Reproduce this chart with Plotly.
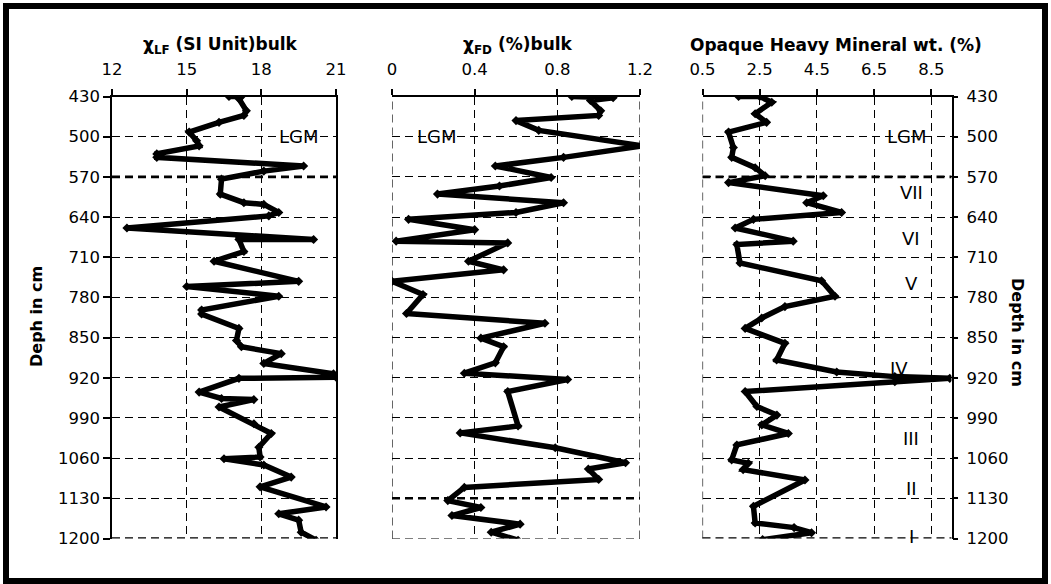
import plotly.graph_objects as go

# ---------------- data ----------------
depth_ticks = [430, 500, 570, 640, 710, 780, 850, 920, 990, 1060, 1130, 1200]

depth_lf = [430, 430, 434, 455, 463, 475, 492, 507, 516, 530, 536, 551, 560, 574, 600, 615,
            618, 632, 638, 659, 679, 679, 700, 717, 752, 761, 778, 802, 809, 834, 855, 866,
            878, 895, 913, 919, 921, 945, 956, 958, 971, 1000, 1017, 1041, 1058, 1061, 1072,
            1093, 1110, 1145, 1157, 1168, 1189, 1203]
chi_lf = [16.7, 17.2, 17.1, 17.4, 17.3, 16.3, 15.1, 15.4, 15.5, 13.8, 13.8, 19.7, 18.1, 16.4,
          16.35, 17.3, 18.1, 18.7, 18.3, 12.6, 20.1, 17.1, 17.3, 16.1, 19.5, 15.0, 18.7, 15.6,
          15.6, 17.1, 17.0, 17.2, 18.8, 18.1, 20.9, 21.0, 17.1, 15.5, 16.4, 17.7, 16.3, 17.7,
          18.4, 17.9, 17.95, 16.5, 18.1, 19.2, 17.95, 20.6, 18.7, 19.5, 19.6, 20.2]

depth_fd = [430, 432, 437, 455, 463, 472, 489, 516, 536, 551, 571, 586, 600, 615, 632, 644,
            662, 682, 685, 717, 732, 752, 775, 808, 825, 851, 866, 894, 912, 923, 944, 1004,
            1016, 1042, 1068, 1079, 1097, 1111, 1134, 1146, 1160, 1175, 1189, 1203]
chi_fd = [0.87, 1.07, 0.96, 1.01, 1.0, 0.60, 0.71, 1.21, 0.83, 0.50, 0.77, 0.52, 0.22, 0.83,
          0.60, 0.08, 0.40, 0.02, 0.56, 0.37, 0.54, 0.0, 0.15, 0.07, 0.74, 0.43, 0.54, 0.50,
          0.35, 0.85, 0.56, 0.61, 0.33, 0.79, 1.13, 0.95, 1.0, 0.35, 0.27, 0.43, 0.29, 0.62,
          0.48, 0.61]

depth_ohm = [430, 430, 440, 460, 475, 492, 519, 536, 554, 568, 580, 603, 615, 632, 644, 659,
             682, 688, 720, 751, 778, 796, 816, 834, 860, 889, 910, 918, 921, 927, 944, 970,
             985, 1002, 1017, 1037, 1063, 1069, 1080, 1098, 1144, 1173, 1181, 1190, 1202]
ohm_wt = [1.76, 2.5, 2.92, 2.34, 2.74, 1.41, 1.58, 1.52, 2.34, 2.69, 1.41, 4.72, 4.14, 5.36,
          2.28, 1.64, 3.67, 1.7, 1.81, 4.66, 5.13, 3.38, 2.57, 1.99, 3.38, 3.09, 5.19, 7.22,
          9.14, 7.22, 1.99, 2.4, 3.1, 2.57, 3.5, 1.7, 1.52, 2.1, 1.92, 4.08, 2.28, 2.34, 3.7,
          4.31, 2.6]

ticks_lf = [12, 15, 18, 21]
ticks_fd = [0, 0.4, 0.8, 1.2]
ticks_ohm = [0.5, 2.5, 4.5, 6.5, 8.5]

zone_labels = ["VII", "VI", "V", "IV", "III", "II", "I"]
zone_depths = [598, 677, 755, 903, 1026, 1113, 1196]

W, H = 1051, 584
FONT = "DejaVu Sans, Liberation Sans, Arial, sans-serif"


def px(x):
    return x / W


def py(y):
    return 1 - y / H


ydom = [py(538.5), py(96.5)]
dash = "8px,5px"

fig = go.Figure()
line_style = dict(color="black", width=5.5)
marker_style = dict(symbol="diamond", size=7, color="black")

fig.add_trace(go.Scatter(x=chi_lf, y=depth_lf, mode="lines+markers", line=line_style,
                         marker=marker_style, xaxis="x", yaxis="y", showlegend=False))
fig.add_trace(go.Scatter(x=chi_fd, y=depth_fd, mode="lines+markers", line=line_style,
                         marker=marker_style, xaxis="x2", yaxis="y2", showlegend=False))
fig.add_trace(go.Scatter(x=ohm_wt, y=depth_ohm, mode="lines+markers", line=line_style,
                         marker=marker_style, xaxis="x3", yaxis="y3", showlegend=False))

tick_font = dict(size=16.5, color="black", family=FONT)
common_x = dict(side="top", showgrid=True, gridcolor="black", griddash=dash, gridwidth=1.2,
                showline=True, linecolor="black", linewidth=1.5, ticks="outside",
                ticklen=6, tickcolor="black", tickwidth=1.5, automargin=False,
                tickfont=tick_font, ticklabelstandoff=7, zeroline=False, fixedrange=True)
common_y = dict(range=[1200, 430], tickvals=depth_ticks, showgrid=True, gridcolor="black",
                griddash=dash, gridwidth=1.2, zeroline=False, fixedrange=True, automargin=False,
                tickfont=tick_font)

fig.update_layout(
    template="none",
    width=W, height=H, margin=dict(l=0, r=0, t=0, b=0, autoexpand=False),
    paper_bgcolor="white", plot_bgcolor="white",
    font=dict(family=FONT, color="black"),
    xaxis=dict(domain=[px(112), px(336)], range=[12, 21], tickvals=ticks_lf, anchor="y", **common_x),
    xaxis2=dict(domain=[px(392), px(640)], range=[0, 1.2], tickvals=ticks_fd,
                ticktext=["0", "0.4", "0.8", "1.2"], anchor="y2", **common_x),
    xaxis3=dict(domain=[px(702.5), px(951.5)], range=[0.5, 9.2], tickvals=ticks_ohm, anchor="y3", **common_x),
    yaxis=dict(domain=ydom, anchor="x", showline=True, mirror=True, linecolor="black", linewidth=1.5,
               ticks="outside", ticklen=7, tickcolor="black", tickwidth=1.5,
               **common_y),
    yaxis2=dict(domain=ydom, anchor="x2", showline=False, showticklabels=False, **common_y),
    yaxis3=dict(domain=ydom, anchor="x3", side="right", showline=True, linecolor="black", linewidth=1.5,
                ticks="outside", ticklen=5, tickcolor="black", tickwidth=1.5, ticklabelstandoff=5,
                **common_y),
)

# heavier dashed boundary lines
bold = dict(color="black", width=2.6, dash=dash)
thin = dict(color="black", width=1.2, dash=dash)
shapes = [
    dict(type="line", xref="x domain", yref="y", x0=0, x1=1, y0=570, y1=570, line=bold),
    dict(type="line", xref="x domain", yref="y", x0=0, x1=1, y0=1200, y1=1200, line=bold),
    dict(type="line", xref="x2 domain", yref="y2", x0=0, x1=1, y0=1130, y1=1130, line=bold),
    dict(type="line", xref="x3 domain", yref="y3", x0=0, x1=1, y0=570, y1=570, line=bold),
    dict(type="line", xref="x3 domain", yref="y3", x0=0, x1=1, y0=1200, y1=1200, line=bold),
    # dashed panel edges
    dict(type="line", xref="x2", yref="y2 domain", x0=0, x1=0, y0=0, y1=1, line=thin, layer="below"),
    dict(type="line", xref="x2", yref="y2 domain", x0=1.2, x1=1.2, y0=0, y1=1, line=thin, layer="below"),
    dict(type="line", xref="x2 domain", yref="y2", x0=0, x1=1, y0=1200, y1=1200, line=thin, layer="below"),
    dict(type="line", xref="x3", yref="y3 domain", x0=0.5, x1=0.5, y0=0, y1=1, line=thin, layer="below"),
    # outer frame
    dict(type="rect", xref="paper", yref="paper", x0=px(6), x1=px(1045), y0=py(581), y1=py(6),
         line=dict(color="black", width=6), layer="above"),
]
fig.update_layout(shapes=shapes)

ann = []
title_font = dict(size=17, color="black", family=FONT)
center = dict(xref="paper", yref="paper", showarrow=False, xanchor="center", yanchor="middle")
ann.append(dict(x=px(220), y=py(45), text="<b>χ<sub>LF</sub> (SI Unit)bulk</b>", font=title_font, **center))
ann.append(dict(x=px(518), y=py(45), text="<b>χ<sub>FD</sub> (%)bulk</b>", font=title_font, **center))
ann.append(dict(x=px(836), y=py(45), text="<b>Opaque Heavy Mineral wt. (%)</b>", font=title_font, **center))
ann.append(dict(x=px(36), y=py(317), text="<b>Deph in cm</b>", textangle=-90,
                font=dict(size=16, color="black", family=FONT), **center))
ann.append(dict(x=px(1018), y=py(332), text="<b>Depth in cm</b>", textangle=90,
                font=dict(size=16, color="black", family=FONT), **center))

lgm_font = dict(size=18, color="black", family=FONT)
dc = dict(showarrow=False, xanchor="center", yanchor="middle")
ann.append(dict(x=19.5, y=500, xref="x", yref="y", text="LGM", font=lgm_font, **dc))
ann.append(dict(x=0.216, y=500, xref="x2", yref="y2", text="LGM", font=lgm_font, **dc))
ann.append(dict(x=7.65, y=500, xref="x3", yref="y3", text="LGM", font=lgm_font, **dc))
for lab, d in zip(zone_labels, zone_depths):
    xv = 7.35 if lab == "IV" else 7.8
    ann.append(dict(x=xv, y=d, xref="x3", yref="y3", text=lab,
                    font=dict(size=18, color="black", family=FONT), **dc))
fig.update_layout(annotations=ann)

fig.write_html("out.html", config={"displayModeBar": False},
               post_script="document.body.style.margin='0';document.body.style.overflow='hidden';")
